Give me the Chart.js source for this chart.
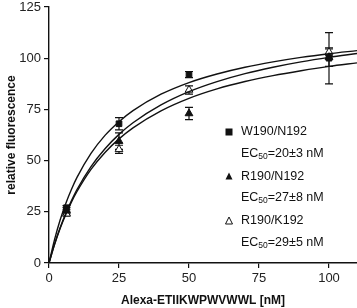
<!DOCTYPE html>
<html>
<head>
<meta charset="utf-8">
<script src="https://cdn.jsdelivr.net/npm/chart.js@4.4.1/dist/chart.umd.min.js"></script>
<style>
    html, body { margin: 0; padding: 0; background: #fff; }
    #wrap { width: 357px; height: 308px; position: relative; }
</style>
</head>
<body>
<div id="wrap"><canvas id="chart"></canvas></div>
<script>
// measured points
const concentrations = [6.25, 25, 50, 100];
const w190n192 = [27, 68, 92, 100];
const w190n192Err = [1, 3, 1.5, 12.5];
const r190n192 = [25.5, 59.5, 73, 100.5];
const r190n192Err = [1.5, 4, 3, 4.5];
const r190k192 = [24, 55.5, 84.5, 103];
const r190k192Err = [1, 2, 2, 1.5];

// fitted curves
const fitX = [0, 2, 4, 6, 8, 10, 15, 20, 25, 30, 40, 50, 60, 70, 80, 90, 100, 110];
const fitW = [0, 11.5, 21.1, 29.1, 35.9, 41.8, 53.5, 62.3, 69, 74.4, 82.4, 88.1, 92.3, 95.6, 98.2, 100.4, 102.2, 103.7];
const fitRK = [0, 9.3, 17.3, 24.3, 30.4, 35.9, 47.1, 55.8, 62.8, 68.5, 77.2, 83.7, 88.6, 92.5, 95.6, 98.2, 100.4, 102.3];
const fitRN = [0, 9.1, 17.0, 23.7, 29.7, 34.9, 45.7, 54.0, 60.6, 66.0, 74.3, 80.4, 85.0, 88.6, 91.5, 93.9, 96.0, 97.7];

const yTicks = [0, 25, 50, 75, 100, 125];
const xTicks = [0, 25, 50, 75, 100];

const legendItems = [
    { name: 'W190/N192', ec: '=20±3 nM', marker: 'rect' },
    { name: 'R190/N192', ec: '=27±8 nM', marker: 'triangle' },
    { name: 'R190/K192', ec: '=29±5 nM', marker: 'openTriangle' },
];

const ink = '#111';
const font = '"Liberation Sans", Arial, Helvetica, sans-serif';

const toPoints = (xs, ys) => xs.map((x, i) => ({ x, y: ys[i] }));

const curve = (ys) => ({
    type: 'scatter',
    data: toPoints(fitX, ys),
    showLine: true,
    borderColor: ink,
    borderWidth: 1.4,
    pointRadius: 0,
    cubicInterpolationMode: 'monotone',
    fill: false,
});

const markers = (ys, errs, style, fill) => ({
    type: 'scatter',
    data: toPoints(concentrations, ys),
    errors: errs,
    pointStyle: style,
    pointRadius: style === 'rect' ? 4 : 4.5,
    backgroundColor: fill,
    borderColor: ink,
    borderWidth: 1,
});

const errorBars = {
    id: 'errorBars',
    beforeDatasetsDraw(chart) {
        const { ctx, scales } = chart;
        ctx.save();
        ctx.strokeStyle = ink;
        ctx.lineWidth = 1.2;
        chart.data.datasets.forEach((ds) => {
            if (!ds.errors) return;
            ds.data.forEach((p, i) => {
                const x = scales.x.getPixelForValue(p.x);
                const top = scales.y.getPixelForValue(p.y + ds.errors[i]);
                const bottom = scales.y.getPixelForValue(p.y - ds.errors[i]);
                ctx.beginPath();
                ctx.moveTo(x, top);
                ctx.lineTo(x, bottom);
                ctx.moveTo(x - 4, top);
                ctx.lineTo(x + 4, top);
                ctx.moveTo(x - 4, bottom);
                ctx.lineTo(x + 4, bottom);
                ctx.stroke();
            });
        });
        ctx.restore();
    },
};

const drawMarker = (ctx, type, x, y) => {
    ctx.fillStyle = ink;
    ctx.strokeStyle = ink;
    ctx.lineWidth = 1;
    if (type === 'rect') {
        ctx.fillRect(x - 3.5, y - 3.5, 7, 7);
        return;
    }
    ctx.beginPath();
    ctx.moveTo(x, y - 4);
    ctx.lineTo(x + 3.5, y + 3);
    ctx.lineTo(x - 3.5, y + 3);
    ctx.closePath();
    if (type === 'triangle') {
        ctx.fill();
    } else {
        ctx.fillStyle = '#fff';
        ctx.fill();
        ctx.stroke();
    }
};

const sideLegend = {
    id: 'sideLegend',
    afterDraw(chart) {
        const { ctx } = chart;
        ctx.save();
        ctx.textBaseline = 'middle';
        ctx.textAlign = 'left';
        legendItems.forEach((item, i) => {
            const y = 132 + i * 44.5;
            drawMarker(ctx, item.marker, 229, y);
            ctx.fillStyle = ink;
            ctx.font = `12.5px ${font}`;
            ctx.fillText(item.name, 241, y);
            const y2 = y + 21.5;
            ctx.fillText('EC', 241, y2);
            let w = ctx.measureText('EC').width;
            ctx.font = `8.5px ${font}`;
            ctx.fillText('50', 241 + w, y2 + 3);
            w += ctx.measureText('50').width;
            ctx.font = `12.5px ${font}`;
            ctx.fillText(item.ec, 241 + w, y2);
        });
        ctx.restore();
    },
};

new Chart(document.getElementById('chart'), {
    type: 'scatter',
    data: {
        datasets: [
            curve(fitW),
            curve(fitRK),
            curve(fitRN),
            markers(w190n192, w190n192Err, 'rect', ink),
            markers(r190n192, r190n192Err, 'triangle', ink),
            markers(r190k192, r190k192Err, 'triangle', '#fff'),
        ],
    },
    options: {
        responsive: true,
        maintainAspectRatio: false,
        animation: false,
        layout: { autoPadding: false, padding: { top: 7, right: 0, left: 0, bottom: 0 } },
        plugins: {
            legend: { display: false },
            tooltip: { enabled: false },
        },
        scales: {
            x: {
                type: 'linear',
                min: 0,
                max: 110,
                afterBuildTicks: (s) => { s.ticks = xTicks.map((value) => ({ value })); },
                afterFit: (s) => { s.height = 45; s.paddingLeft = 0; s.paddingRight = 0; },
                grid: { drawOnChartArea: false, tickLength: 5, color: ink, lineWidth: 1.2 },
                border: { color: ink, width: 1.4 },
                ticks: { color: '#222', font: { family: font, size: 13 }, padding: 3, maxRotation: 0 },
                title: {
                    display: true,
                    text: 'Alexa-ETIIKWPWVWWL [nM]',
                    color: ink,
                    font: { family: font, size: 12, weight: 'bold' },
                    padding: { top: 4, bottom: 0 },
                },
            },
            y: {
                min: 0,
                max: 125,
                afterBuildTicks: (s) => { s.ticks = yTicks.map((value) => ({ value })); },
                afterFit: (s) => { s.width = 49; s.paddingTop = 0; s.paddingBottom = 0; },
                grid: { drawOnChartArea: false, tickLength: 5, color: ink, lineWidth: 1.2 },
                border: { color: ink, width: 1.4 },
                ticks: { color: '#222', font: { family: font, size: 13 }, padding: 3 },
                title: {
                    display: true,
                    text: 'relative fluorescence',
                    color: ink,
                    font: { family: font, size: 12, weight: 'bold' },
                    padding: { top: 4, bottom: 0 },
                },
            },
        },
    },
    plugins: [errorBars, sideLegend],
});
</script>
</body>
</html>
